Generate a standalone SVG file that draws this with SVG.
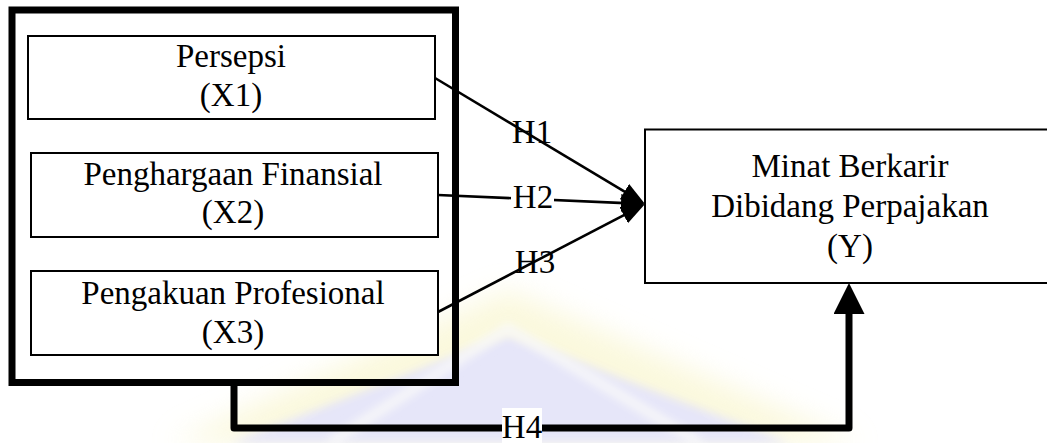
<svg xmlns="http://www.w3.org/2000/svg" width="1047" height="443" viewBox="0 0 1047 443">
  <defs>
    <style>
      .box { fill: #ffffff; stroke: #000000; stroke-width: 2; }
      .outer { fill: none; stroke: #000000; stroke-width: 7; }
      .lbl { font-family: 'Liberation Serif', serif; font-size: 33px; fill: #000000; text-anchor: middle; }
      .conn { fill: none; stroke: #000000; stroke-width: 2.6; }
      .thick { fill: none; stroke: #000000; stroke-width: 7; stroke-linejoin: round; }
    </style>
    <marker id="arrowSmall" markerUnits="userSpaceOnUse" markerWidth="26" markerHeight="20" refX="4" refY="9" orient="auto">
      <path d="M0,0 L24,9 L0,18 z" fill="#000000"/>
    </marker>
    <marker id="arrowBig" markerUnits="userSpaceOnUse" markerWidth="33" markerHeight="33" refX="2" refY="15.5" orient="auto">
      <path d="M0,0 L31,15.5 L0,31 z" fill="#000000"/>
    </marker>
    <filter id="soft" x="-20%" y="-20%" width="140%" height="140%">
      <feGaussianBlur stdDeviation="14"/>
    </filter>
    <filter id="soft2" x="-20%" y="-20%" width="140%" height="140%">
      <feGaussianBlur stdDeviation="5"/>
    </filter>
  </defs>

  <rect x="0" y="0" width="1047" height="443" fill="#ffffff"/>

  <g id="watermark" opacity="0.6">
    <polygon points="508,290 170,443 860,443" fill="#f8f4c6" filter="url(#soft)"/>
    <polygon points="508,335 230,443 790,443" fill="#d6d6f6" filter="url(#soft2)"/>
    <polyline points="330,443 508,328 700,443" fill="none" stroke="#f6f6f6" stroke-width="9" filter="url(#soft2)"/>
  </g>

  <g id="group-X">
    <rect class="outer" x="12" y="10" width="443.5" height="372.5" fill="#ffffff"/>
  </g>

  <g font-family="Liberation Serif, serif">
  <g id="node-X1">
    <rect class="box" x="28" y="36" width="407" height="83"/>
    <text class="lbl" x="231" y="67">Persepsi</text>
    <text class="lbl" x="231" y="106">(X1)</text>
  </g>

  <g id="node-X2">
    <rect class="box" x="31" y="153" width="407" height="84"/>
    <text class="lbl" x="233" y="185">Penghargaan Finansial</text>
    <text class="lbl" x="233" y="223">(X2)</text>
  </g>

  <g id="node-X3">
    <rect class="box" x="31" y="271" width="407" height="84"/>
    <text class="lbl" x="233" y="304">Pengakuan Profesional</text>
    <text class="lbl" x="233" y="343">(X3)</text>
  </g>

  <g id="node-Y">
    <rect class="box" x="645" y="129.5" width="420" height="153.5"/>
    <text class="lbl" x="850" y="177">Minat Berkarir</text>
    <text class="lbl" x="850" y="217">Dibidang Perpajakan</text>
    <text class="lbl" x="850" y="257">(Y)</text>
  </g>

  <g id="connectors">
    <line class="conn" x1="435" y1="78" x2="627.9" y2="193.7" marker-end="url(#arrowSmall)"/>
    <line class="conn" x1="438" y1="195" x2="625" y2="203.1" marker-end="url(#arrowSmall)"/>
    <line class="conn" x1="438" y1="312" x2="627.3" y2="213.3" marker-end="url(#arrowSmall)"/>
    <path class="thick" d="M234,386 L234,428 L849,428 L849,312" marker-end="url(#arrowBig)"/>

    <text class="lbl" x="532" y="143">H1</text>
    <rect x="511" y="184" width="43" height="27" fill="#ffffff"/>
    <text class="lbl" x="533" y="208">H2</text>
    <text class="lbl" x="535" y="273">H3</text>
    <rect x="502" y="408" width="40" height="35" fill="#ffffff"/>
    <text class="lbl" x="522" y="438">H4</text>
  </g>
  </g>
</svg>
